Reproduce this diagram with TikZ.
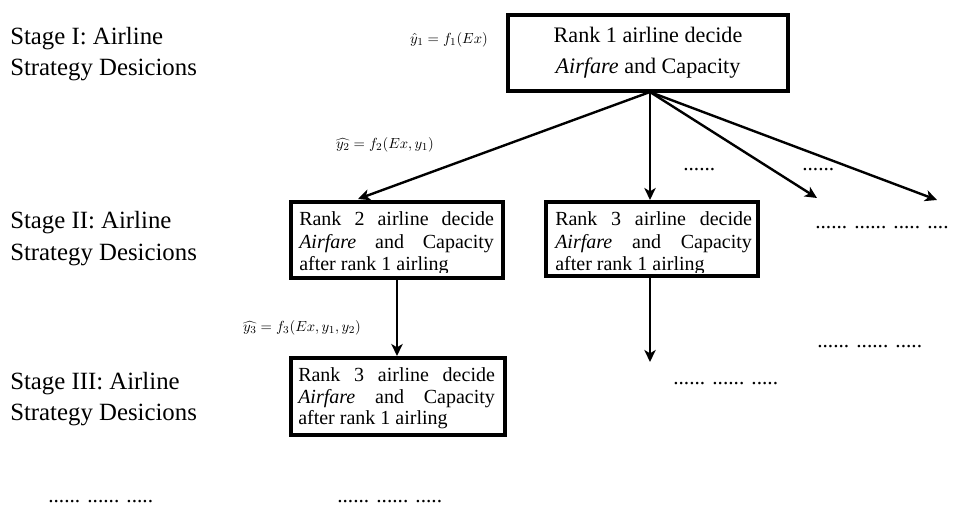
\documentclass[tikz,border=0pt]{standalone}
\usepackage{fontspec}
\setmainfont{Liberation Serif}
\usetikzlibrary{arrows.meta}
\begin{document}
\begin{tikzpicture}[x=0.75pt,y=-0.75pt,
  box/.style={draw, line width=3pt, inner sep=0pt},
  link/.style={line width=1.8pt, -{Stealth[length=9pt,width=8.5pt,inset=2.5pt]}},
  stage/.style={anchor=base west, inner sep=0pt, font=\fontsize{18.6}{22}\selectfont},
  boxline/.style={anchor=base west, inner sep=0pt, font=\fontsize{15}{17}\selectfont},
  toptext/.style={anchor=base, inner sep=0pt, font=\fontsize{16.6}{20}\selectfont},
  formula/.style={inner sep=1pt, font=\fontsize{11}{13}\selectfont},
  etc/.style={anchor=base west, inner sep=0pt, font=\fontsize{16}{18}\selectfont}]

\useasboundingbox (0,0) rectangle (954,506);

% stage captions on the left
\node[stage] (s1a) at (10,45) {Stage I: Airline};
\node[stage] (s1b) at (10,76) {Strategy Desicions};
\node[stage] (s2a) at (10,229) {Stage II: Airline};
\node[stage] (s2b) at (10,261) {Strategy Desicions};
\node[stage] (s3a) at (10,389) {Stage III: Airline};
\node[stage] (s3b) at (10,420) {Strategy Desicions};

% decision boxes
\node[box, minimum width=210pt, minimum height=57pt] (r1) at (648,53) {};
\node[box, minimum width=159pt, minimum height=57pt] (r2) at (397,240) {};
\node[box, minimum width=159pt, minimum height=55.5pt] (r3) at (652,239) {};
\node[box, minimum width=160.5pt, minimum height=57.75pt] (r4) at (398,396.5) {};

% rank 1
\node[toptext] (r1a) at (648,43) {Rank 1 airline decide};
\node[toptext] (r1b) at (648,74) {\textit{Airfare} and Capacity};

% rank 2, stage II
\begin{scope}
  \clip (291,202) rectangle (503,273);
  \node[boxline] (r2a) at (299,226) {\makebox[146pt][s]{Rank 2 airline decide}};
  \node[boxline] (r2b) at (299,249) {\makebox[146pt][s]{\textit{Airfare} and Capacity}};
  \node[boxline] (r2c) at (299,271) {after rank 1 airling};
\end{scope}

% rank 3, stage II
\begin{scope}
  \clip (546,202) rectangle (758,273);
  \node[boxline] (r3a) at (555,226) {\makebox[147.5pt][s]{Rank 3 airline decide}};
  \node[boxline] (r3b) at (555,248) {\makebox[147.5pt][s]{\textit{Airfare} and Capacity}};
  \node[boxline] (r3c) at (555,271) {after rank 1 airling};
\end{scope}

% rank 3, stage III
\begin{scope}
  \clip (291,358) rectangle (505,428);
  \node[boxline] (r4a) at (298,381) {\makebox[147.5pt][s]{Rank 3 airline decide}};
  \node[boxline] (r4b) at (298,403) {\makebox[147.5pt][s]{\textit{Airfare} and Capacity}};
  \node[boxline] (r4c) at (298,424) {after rank 1 airling};
\end{scope}

% expectation formulas
\node[formula] (f1) at (449,40) {$\hat{y}_1 = f_1(Ex)$};
\node[formula] (f2) at (385,145) {$\widehat{y_2} = f_2(Ex, y_1)$};
\node[formula] (f3) at (302,328) {$\widehat{y_3} = f_3(Ex, y_1, y_2)$};

% connectors
\coordinate (hub) at (650,92);
\coordinate (t2) at (358,199);
\coordinate (t3) at (817,198);
\coordinate (t4) at (937,200);
\coordinate (t5) at (650,362);
\draw[link] (hub) -- (t2);
\draw[link] (hub) -- (hub |- r3.north);
\draw[link] (hub) -- (t3);
\draw[link] (hub) -- (t4);
\draw[link] (r2.south) -- (r2.south |- r4.north);
\draw[link] (r3.south -| t5) -- (t5);

% continuation marks
\node[etc] (e1) at (683,171) {......};
\node[etc] (e2) at (802,171) {......};
\node[etc] (e3) at (815,229) {...... ...... ..... ....};
\node[etc] (e4) at (817,347) {...... ...... .....};
\node[etc] (e5) at (673,384) {...... ...... .....};
\node[etc] (e6) at (48,502) {...... ...... .....};
\node[etc] (e7) at (337,502) {...... ...... .....};
\end{tikzpicture}
\end{document}
